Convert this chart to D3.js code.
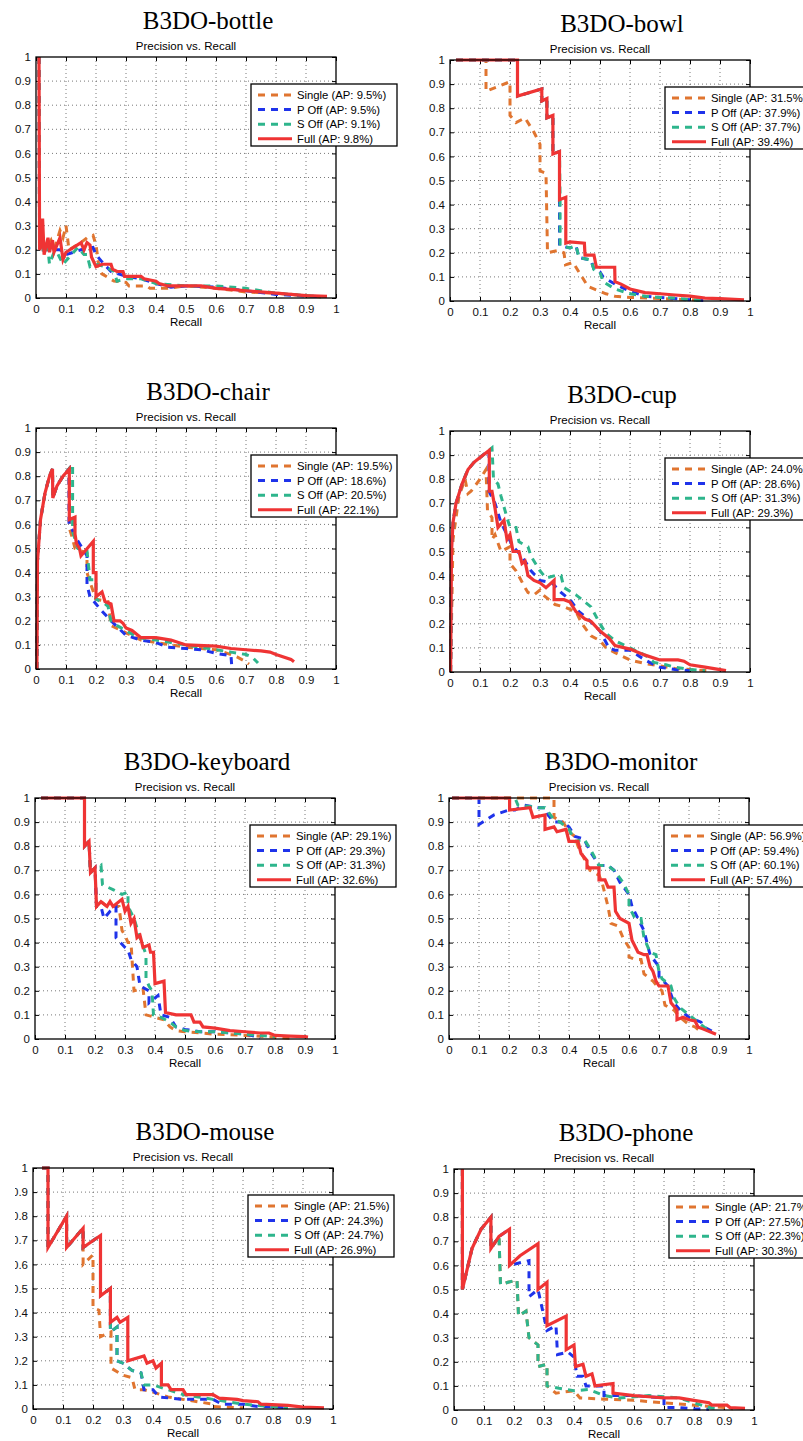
<!DOCTYPE html>
<html>
<head>
<meta charset="utf-8">
<script src="https://cdn.jsdelivr.net/npm/d3@7"></script>
<style>
  body { margin: 0; background: #fff; }
  svg { display: block; }
</style>
</head>
<body>
<div id="chart"></div>
<script>
// precision-recall curves, [recall, precision]
const seriesNames = ["Single", "P Off", "S Off", "Full"];
const seriesColors = ["#E07530", "#1F33EA", "#2EB58C", "#EF3434"];

const panelTitles = ["B3DO-bottle", "B3DO-bowl", "B3DO-chair", "B3DO-cup",
                     "B3DO-keyboard", "B3DO-monitor", "B3DO-mouse", "B3DO-phone"];

const apBottle = [9.5, 9.5, 9.1, 9.8];
const apBowl = [31.5, 37.9, 37.7, 39.4];
const apChair = [19.5, 18.6, 20.5, 22.1];
const apCup = [24.0, 28.6, 31.3, 29.3];
const apKeyboard = [29.1, 29.3, 31.3, 32.6];
const apMonitor = [56.9, 59.4, 60.1, 57.4];
const apMouse = [21.5, 24.3, 24.7, 26.9];
const apPhone = [21.7, 27.5, 22.3, 30.3];

const tickValues = [0, 0.1, 0.2, 0.3, 0.4, 0.5, 0.6, 0.7, 0.8, 0.9, 1];
const tickLabels = ["0", "0.1", "0.2", "0.3", "0.4", "0.5", "0.6", "0.7", "0.8", "0.9", "1"];

// ---- bottle
const bottleSingle = [[0.01,1],[0.012,0.2],[0.03,0.2],[0.05,0.24],[0.06,0.2],[0.08,0.28],[0.09,0.25],[0.1,0.3],[0.11,0.2],[0.15,0.23],[0.17,0.25],[0.19,0.26],[0.2,0.22],[0.21,0.13],[0.22,0.1],[0.26,0.07],[0.3,0.065],[0.31,0.05],[0.37,0.05],[0.38,0.04],[0.44,0.04],[0.5,0.05],[0.6,0.04],[0.7,0.025],[0.8,0.02],[0.9,0.01],[0.95,0.005]];
const bottlePOff = [[0.01,1],[0.012,0.2],[0.03,0.2],[0.05,0.2],[0.08,0.2],[0.1,0.18],[0.15,0.2],[0.19,0.21],[0.2,0.18],[0.22,0.15],[0.25,0.11],[0.3,0.09],[0.35,0.08],[0.4,0.06],[0.45,0.045],[0.5,0.05],[0.6,0.045],[0.7,0.03],[0.8,0.015],[0.9,0.008],[0.95,0.005]];
const bottleSOff = [[0.01,1],[0.012,0.2],[0.04,0.2],[0.045,0.14],[0.06,0.19],[0.07,0.19],[0.09,0.14],[0.14,0.21],[0.16,0.18],[0.17,0.18],[0.18,0.13],[0.2,0.14],[0.23,0.13],[0.26,0.11],[0.27,0.07],[0.3,0.08],[0.35,0.08],[0.4,0.06],[0.5,0.05],[0.6,0.05],[0.7,0.04],[0.8,0.02],[0.9,0.01],[0.95,0.005]];
const bottleFull = [[0.01,1],[0.012,0.2],[0.02,0.22],[0.022,0.33],[0.027,0.18],[0.04,0.25],[0.045,0.19],[0.055,0.24],[0.06,0.19],[0.08,0.25],[0.09,0.16],[0.1,0.19],[0.15,0.23],[0.16,0.2],[0.17,0.23],[0.18,0.22],[0.185,0.17],[0.2,0.13],[0.22,0.14],[0.25,0.14],[0.255,0.12],[0.27,0.11],[0.29,0.11],[0.295,0.09],[0.35,0.09],[0.36,0.08],[0.4,0.07],[0.41,0.06],[0.44,0.05],[0.55,0.05],[0.6,0.04],[0.66,0.035],[0.7,0.03],[0.8,0.02],[0.9,0.01],[0.97,0.007]];

// ---- bowl
const bowlSingle = [[0.02,1],[0.12,1],[0.12,0.87],[0.2,0.91],[0.2,0.77],[0.22,0.74],[0.25,0.76],[0.28,0.7],[0.3,0.65],[0.3,0.54],[0.32,0.53],[0.325,0.2],[0.36,0.21],[0.38,0.2],[0.385,0.15],[0.41,0.16],[0.44,0.1],[0.46,0.06],[0.5,0.04],[0.52,0.03],[0.55,0.02],[0.6,0.015],[0.7,0.01],[0.8,0.005],[0.85,0.003]];
const bowlPOff = [[0.02,1],[0.225,1],[0.225,0.85],[0.306,0.88],[0.306,0.83],[0.323,0.84],[0.323,0.76],[0.343,0.77],[0.343,0.61],[0.365,0.62],[0.365,0.23],[0.4,0.22],[0.42,0.23],[0.43,0.18],[0.47,0.17],[0.48,0.13],[0.5,0.12],[0.51,0.1],[0.55,0.07],[0.6,0.04],[0.65,0.02],[0.7,0.015],[0.8,0.005],[0.85,0.002]];
const bowlSOff = [[0.02,1],[0.225,1],[0.225,0.85],[0.306,0.88],[0.306,0.83],[0.323,0.84],[0.323,0.76],[0.343,0.77],[0.343,0.61],[0.365,0.62],[0.367,0.41],[0.367,0.23],[0.4,0.22],[0.42,0.23],[0.43,0.18],[0.47,0.17],[0.48,0.13],[0.5,0.12],[0.51,0.08],[0.55,0.05],[0.6,0.03],[0.65,0.02],[0.7,0.015],[0.75,0.012],[0.8,0.005],[0.85,0.002]];
const bowlFull = [[0.02,1],[0.225,1],[0.225,0.85],[0.306,0.88],[0.306,0.83],[0.323,0.84],[0.323,0.76],[0.343,0.77],[0.343,0.61],[0.365,0.62],[0.365,0.42],[0.386,0.43],[0.386,0.24],[0.4,0.245],[0.448,0.24],[0.45,0.19],[0.48,0.19],[0.488,0.14],[0.549,0.14],[0.55,0.08],[0.57,0.07],[0.6,0.05],[0.65,0.035],[0.7,0.03],[0.75,0.025],[0.8,0.02],[0.85,0.012],[0.9,0.01],[0.98,0.005]];

// ---- chair
const chairSingle = [[0.003,0],[0.005,0.45],[0.015,0.62],[0.03,0.73],[0.045,0.8],[0.055,0.83],[0.056,0.71],[0.07,0.76],[0.09,0.8],[0.11,0.83],[0.112,0.58],[0.12,0.55],[0.13,0.5],[0.17,0.48],[0.17,0.4],[0.18,0.36],[0.2,0.29],[0.24,0.28],[0.25,0.18],[0.3,0.15],[0.35,0.12],[0.45,0.1],[0.5,0.09],[0.6,0.08],[0.65,0.06],[0.67,0.05],[0.7,0.03],[0.71,0.02]];
const chairPOff = [[0.003,0],[0.005,0.45],[0.015,0.62],[0.03,0.73],[0.045,0.8],[0.055,0.83],[0.056,0.71],[0.07,0.76],[0.09,0.8],[0.11,0.83],[0.11,0.6],[0.12,0.58],[0.13,0.55],[0.17,0.47],[0.17,0.35],[0.18,0.3],[0.2,0.27],[0.22,0.24],[0.25,0.2],[0.3,0.14],[0.35,0.12],[0.4,0.11],[0.44,0.09],[0.5,0.085],[0.55,0.08],[0.6,0.065],[0.65,0.055],[0.652,0.02]];
const chairSOff = [[0.003,0],[0.005,0.45],[0.015,0.62],[0.03,0.73],[0.045,0.8],[0.055,0.83],[0.056,0.71],[0.07,0.76],[0.09,0.8],[0.11,0.83],[0.122,0.85],[0.122,0.57],[0.14,0.5],[0.17,0.49],[0.18,0.37],[0.2,0.37],[0.2,0.29],[0.23,0.27],[0.24,0.26],[0.25,0.2],[0.27,0.18],[0.3,0.16],[0.34,0.13],[0.4,0.12],[0.45,0.11],[0.5,0.1],[0.6,0.08],[0.65,0.07],[0.7,0.06],[0.72,0.05],[0.74,0.025]];
const chairFull = [[0.003,0],[0.005,0.45],[0.015,0.62],[0.03,0.73],[0.045,0.8],[0.055,0.83],[0.056,0.71],[0.07,0.76],[0.09,0.8],[0.111,0.83],[0.111,0.62],[0.13,0.63],[0.13,0.56],[0.135,0.52],[0.145,0.5],[0.15,0.47],[0.191,0.53],[0.191,0.4],[0.2,0.4],[0.2,0.3],[0.22,0.32],[0.23,0.28],[0.25,0.27],[0.26,0.2],[0.28,0.2],[0.29,0.19],[0.3,0.17],[0.32,0.16],[0.35,0.13],[0.4,0.13],[0.45,0.12],[0.5,0.1],[0.6,0.095],[0.65,0.085],[0.7,0.08],[0.75,0.075],[0.78,0.07],[0.8,0.06],[0.85,0.04],[0.86,0.03]];

// ---- cup
const cupSingle = [[0.002,0],[0.01,0.55],[0.03,0.73],[0.05,0.8],[0.06,0.74],[0.07,0.75],[0.1,0.8],[0.12,0.84],[0.125,0.67],[0.14,0.64],[0.14,0.55],[0.15,0.57],[0.17,0.5],[0.2,0.52],[0.2,0.45],[0.22,0.42],[0.25,0.35],[0.26,0.33],[0.28,0.32],[0.3,0.34],[0.31,0.32],[0.33,0.3],[0.35,0.28],[0.38,0.27],[0.42,0.25],[0.44,0.2],[0.47,0.15],[0.5,0.13],[0.52,0.1],[0.55,0.08],[0.6,0.05],[0.65,0.035],[0.7,0.025],[0.75,0.015],[0.8,0.01],[0.87,0.005]];
const cupPOff = [[0.002,0],[0.005,0.5],[0.01,0.62],[0.02,0.7],[0.04,0.78],[0.06,0.84],[0.08,0.87],[0.1,0.89],[0.13,0.92],[0.13,0.75],[0.15,0.7],[0.17,0.62],[0.19,0.57],[0.21,0.52],[0.24,0.48],[0.27,0.42],[0.3,0.38],[0.34,0.37],[0.37,0.33],[0.4,0.3],[0.43,0.25],[0.46,0.22],[0.5,0.17],[0.53,0.1],[0.55,0.09],[0.6,0.09],[0.65,0.05],[0.68,0.03],[0.7,0.02],[0.75,0.01],[0.8,0.005]];
const cupSOff = [[0.002,0],[0.005,0.5],[0.01,0.62],[0.02,0.7],[0.04,0.78],[0.06,0.84],[0.08,0.87],[0.1,0.89],[0.13,0.92],[0.14,0.93],[0.145,0.8],[0.16,0.78],[0.17,0.73],[0.19,0.64],[0.2,0.6],[0.22,0.6],[0.23,0.54],[0.26,0.52],[0.27,0.48],[0.3,0.42],[0.32,0.39],[0.35,0.4],[0.37,0.4],[0.38,0.35],[0.42,0.32],[0.45,0.29],[0.47,0.27],[0.5,0.2],[0.52,0.16],[0.55,0.13],[0.6,0.1],[0.65,0.07],[0.68,0.04],[0.72,0.03],[0.75,0.02],[0.8,0.01],[0.85,0.005]];
const cupFull = [[0.002,0],[0.005,0.5],[0.01,0.62],[0.02,0.7],[0.04,0.78],[0.06,0.84],[0.08,0.87],[0.1,0.89],[0.131,0.92],[0.131,0.75],[0.14,0.75],[0.15,0.68],[0.16,0.6],[0.18,0.63],[0.19,0.55],[0.2,0.57],[0.21,0.5],[0.23,0.5],[0.24,0.45],[0.25,0.46],[0.26,0.4],[0.28,0.38],[0.3,0.37],[0.32,0.35],[0.347,0.38],[0.347,0.3],[0.38,0.3],[0.4,0.29],[0.42,0.25],[0.45,0.22],[0.47,0.21],[0.5,0.17],[0.53,0.14],[0.55,0.11],[0.6,0.095],[0.65,0.07],[0.7,0.05],[0.76,0.05],[0.78,0.045],[0.8,0.03],[0.85,0.02],[0.9,0.01],[0.92,0.006]];

// ---- keyboard
const keyboardSingle = [[0.02,1],[0.165,1],[0.165,0.8],[0.18,0.82],[0.185,0.69],[0.2,0.71],[0.205,0.55],[0.22,0.57],[0.24,0.55],[0.26,0.55],[0.28,0.55],[0.29,0.45],[0.3,0.43],[0.31,0.4],[0.32,0.4],[0.33,0.2],[0.36,0.21],[0.37,0.1],[0.4,0.09],[0.43,0.08],[0.45,0.05],[0.47,0.035],[0.5,0.03],[0.6,0.02],[0.7,0.015],[0.8,0.008],[0.85,0.003]];
const keyboardPOff = [[0.02,1],[0.165,1],[0.165,0.8],[0.18,0.82],[0.185,0.69],[0.2,0.71],[0.205,0.55],[0.22,0.55],[0.23,0.5],[0.25,0.53],[0.27,0.55],[0.27,0.42],[0.3,0.38],[0.31,0.37],[0.32,0.33],[0.34,0.3],[0.35,0.22],[0.38,0.2],[0.38,0.15],[0.4,0.17],[0.41,0.18],[0.42,0.1],[0.45,0.09],[0.47,0.05],[0.5,0.04],[0.55,0.03],[0.6,0.03],[0.65,0.025],[0.7,0.02],[0.74,0.01],[0.75,0.003]];
const keyboardSOff = [[0.02,1],[0.165,1],[0.165,0.8],[0.18,0.82],[0.185,0.69],[0.2,0.71],[0.21,0.71],[0.22,0.72],[0.225,0.64],[0.26,0.62],[0.29,0.6],[0.31,0.61],[0.31,0.55],[0.33,0.5],[0.35,0.42],[0.37,0.35],[0.37,0.25],[0.38,0.22],[0.39,0.2],[0.395,0.1],[0.42,0.09],[0.45,0.07],[0.47,0.05],[0.5,0.035],[0.55,0.03],[0.6,0.03],[0.7,0.02],[0.75,0.015],[0.8,0.01]];
const keyboardFull = [[0.02,1],[0.165,1],[0.165,0.8],[0.18,0.82],[0.185,0.69],[0.2,0.71],[0.205,0.55],[0.22,0.57],[0.24,0.55],[0.25,0.57],[0.26,0.55],[0.29,0.58],[0.3,0.53],[0.31,0.55],[0.32,0.48],[0.33,0.5],[0.34,0.42],[0.35,0.43],[0.36,0.38],[0.38,0.39],[0.385,0.36],[0.395,0.36],[0.4,0.23],[0.43,0.24],[0.435,0.11],[0.47,0.1],[0.52,0.1],[0.53,0.07],[0.55,0.07],[0.56,0.05],[0.6,0.045],[0.65,0.035],[0.7,0.03],[0.75,0.025],[0.78,0.025],[0.8,0.015],[0.85,0.012],[0.9,0.01],[0.91,0.008]];

// ---- monitor
const monitorSingle = [[0.01,1],[0.35,1],[0.35,0.92],[0.38,0.9],[0.4,0.86],[0.42,0.84],[0.43,0.8],[0.45,0.75],[0.47,0.7],[0.5,0.68],[0.51,0.65],[0.53,0.55],[0.54,0.48],[0.56,0.47],[0.57,0.45],[0.58,0.42],[0.6,0.38],[0.6,0.34],[0.62,0.33],[0.64,0.33],[0.65,0.27],[0.67,0.25],[0.68,0.24],[0.7,0.21],[0.71,0.2],[0.72,0.14],[0.75,0.12],[0.77,0.09],[0.8,0.06],[0.82,0.05],[0.84,0.03]];
const monitorPOff = [[0.01,1],[0.1,1],[0.1,0.89],[0.15,0.93],[0.2,0.95],[0.22,0.95],[0.25,0.97],[0.3,0.96],[0.32,0.96],[0.33,0.93],[0.35,0.9],[0.38,0.9],[0.4,0.88],[0.42,0.84],[0.45,0.83],[0.47,0.78],[0.5,0.72],[0.53,0.72],[0.55,0.7],[0.57,0.65],[0.6,0.6],[0.61,0.55],[0.63,0.5],[0.65,0.45],[0.67,0.35],[0.7,0.3],[0.7,0.26],[0.73,0.22],[0.75,0.15],[0.77,0.12],[0.8,0.09],[0.82,0.08],[0.84,0.07],[0.85,0.05],[0.88,0.03]];
const monitorSOff = [[0.01,1],[0.22,1],[0.23,0.97],[0.3,0.96],[0.32,0.96],[0.35,0.91],[0.37,0.9],[0.4,0.87],[0.42,0.82],[0.45,0.83],[0.47,0.79],[0.5,0.72],[0.53,0.72],[0.55,0.7],[0.58,0.65],[0.6,0.6],[0.6,0.55],[0.62,0.5],[0.64,0.5],[0.65,0.42],[0.67,0.36],[0.69,0.35],[0.7,0.28],[0.71,0.25],[0.74,0.22],[0.75,0.17],[0.77,0.13],[0.8,0.1],[0.82,0.08],[0.85,0.05],[0.87,0.03]];
const monitorFull = [[0.01,1],[0.202,1],[0.202,0.95],[0.27,0.96],[0.28,0.92],[0.32,0.93],[0.32,0.87],[0.35,0.88],[0.36,0.86],[0.39,0.87],[0.4,0.82],[0.43,0.82],[0.44,0.77],[0.46,0.74],[0.46,0.71],[0.5,0.71],[0.5,0.66],[0.52,0.66],[0.53,0.63],[0.55,0.63],[0.555,0.53],[0.57,0.5],[0.6,0.48],[0.61,0.41],[0.63,0.36],[0.65,0.35],[0.66,0.35],[0.67,0.3],[0.68,0.28],[0.69,0.24],[0.7,0.22],[0.73,0.22],[0.74,0.15],[0.76,0.12],[0.76,0.08],[0.78,0.09],[0.8,0.08],[0.82,0.075],[0.83,0.05],[0.85,0.04],[0.88,0.025],[0.89,0.02]];

// ---- mouse
const mouseSingle = [[0.03,1],[0.05,1],[0.05,0.67],[0.112,0.8],[0.112,0.67],[0.167,0.75],[0.167,0.6],[0.2,0.64],[0.2,0.42],[0.22,0.41],[0.225,0.3],[0.26,0.32],[0.26,0.17],[0.3,0.14],[0.33,0.13],[0.34,0.08],[0.37,0.08],[0.4,0.07],[0.45,0.05],[0.5,0.04],[0.55,0.03],[0.6,0.02],[0.6,0.01],[0.7,0.005]];
const mousePOff = [[0.03,1],[0.05,1],[0.05,0.67],[0.112,0.8],[0.112,0.67],[0.167,0.75],[0.167,0.67],[0.225,0.72],[0.225,0.47],[0.258,0.5],[0.258,0.32],[0.28,0.34],[0.28,0.2],[0.3,0.19],[0.33,0.16],[0.36,0.15],[0.37,0.08],[0.4,0.08],[0.42,0.05],[0.5,0.04],[0.6,0.04],[0.63,0.02],[0.7,0.02],[0.75,0.01],[0.8,0.01],[0.85,0.005]];
const mouseSOff = [[0.03,1],[0.05,1],[0.05,0.67],[0.112,0.8],[0.112,0.67],[0.167,0.75],[0.167,0.67],[0.225,0.72],[0.225,0.47],[0.258,0.5],[0.258,0.32],[0.28,0.34],[0.28,0.2],[0.3,0.19],[0.33,0.16],[0.36,0.15],[0.37,0.1],[0.4,0.1],[0.45,0.08],[0.5,0.06],[0.55,0.05],[0.6,0.04],[0.65,0.03],[0.7,0.02],[0.75,0.015],[0.8,0.01],[0.85,0.005]];
const mouseFull = [[0.03,1],[0.05,1],[0.05,0.67],[0.112,0.8],[0.112,0.67],[0.167,0.75],[0.167,0.67],[0.225,0.72],[0.225,0.47],[0.258,0.5],[0.258,0.36],[0.28,0.38],[0.29,0.36],[0.316,0.38],[0.316,0.2],[0.37,0.22],[0.38,0.19],[0.4,0.2],[0.41,0.17],[0.428,0.19],[0.428,0.1],[0.45,0.1],[0.46,0.08],[0.5,0.08],[0.51,0.06],[0.6,0.06],[0.62,0.045],[0.68,0.04],[0.7,0.035],[0.75,0.03],[0.76,0.02],[0.85,0.015],[0.9,0.008],[0.97,0.005]];

// ---- phone
const phoneSingle = [[0.028,1],[0.028,0.5],[0.06,0.67],[0.09,0.75],[0.123,0.8],[0.123,0.67],[0.15,0.72],[0.155,0.52],[0.18,0.53],[0.21,0.54],[0.215,0.39],[0.24,0.41],[0.25,0.3],[0.28,0.27],[0.28,0.18],[0.31,0.19],[0.31,0.1],[0.34,0.07],[0.4,0.08],[0.42,0.05],[0.5,0.045],[0.6,0.04],[0.7,0.03],[0.8,0.02],[0.9,0.01],[0.93,0.005]];
const phonePOff = [[0.028,1],[0.028,0.5],[0.06,0.67],[0.09,0.75],[0.123,0.8],[0.123,0.67],[0.15,0.72],[0.185,0.75],[0.185,0.6],[0.25,0.62],[0.25,0.47],[0.28,0.5],[0.31,0.33],[0.34,0.35],[0.345,0.23],[0.38,0.24],[0.4,0.22],[0.41,0.14],[0.43,0.14],[0.44,0.1],[0.5,0.1],[0.5,0.06],[0.6,0.06],[0.7,0.05],[0.7,0.01],[0.75,0.01],[0.8,0.005],[0.85,0.003]];
const phoneSOff = [[0.028,1],[0.028,0.5],[0.06,0.67],[0.09,0.75],[0.123,0.8],[0.123,0.67],[0.15,0.72],[0.155,0.52],[0.18,0.53],[0.21,0.54],[0.215,0.39],[0.24,0.41],[0.25,0.3],[0.28,0.27],[0.28,0.18],[0.31,0.19],[0.31,0.1],[0.35,0.09],[0.4,0.08],[0.45,0.085],[0.5,0.06],[0.55,0.05],[0.6,0.055],[0.65,0.06],[0.7,0.055],[0.75,0.05],[0.8,0.03],[0.85,0.01],[0.88,0.005]];
const phoneFull = [[0.028,1],[0.028,0.5],[0.06,0.67],[0.09,0.75],[0.123,0.8],[0.123,0.67],[0.15,0.72],[0.185,0.75],[0.185,0.6],[0.22,0.64],[0.28,0.69],[0.28,0.5],[0.31,0.53],[0.31,0.35],[0.374,0.39],[0.374,0.25],[0.4,0.27],[0.405,0.18],[0.43,0.19],[0.44,0.14],[0.46,0.15],[0.47,0.1],[0.53,0.11],[0.53,0.07],[0.6,0.06],[0.65,0.055],[0.7,0.05],[0.75,0.05],[0.8,0.04],[0.85,0.03],[0.86,0.02],[0.91,0.02],[0.92,0.01],[0.97,0.007]];

// panel placement; cropLeft = the source image was cut off there (mouse panel)
const panels = [
  { series: [bottleSingle, bottlePOff, bottleSOff, bottleFull], ap: apBottle, left: 36, top: 57 },
  { series: [bowlSingle, bowlPOff, bowlSOff, bowlFull], ap: apBowl, left: 450, top: 60 },
  { series: [chairSingle, chairPOff, chairSOff, chairFull], ap: apChair, left: 36, top: 428 },
  { series: [cupSingle, cupPOff, cupSOff, cupFull], ap: apCup, left: 450, top: 431 },
  { series: [keyboardSingle, keyboardPOff, keyboardSOff, keyboardFull], ap: apKeyboard, left: 35, top: 798 },
  { series: [monitorSingle, monitorPOff, monitorSOff, monitorFull], ap: apMonitor, left: 449, top: 798 },
  { series: [mouseSingle, mousePOff, mouseSOff, mouseFull], ap: apMouse, left: 33, top: 1168, cropLeft: 15 },
  { series: [phoneSingle, phonePOff, phoneSOff, phoneFull], ap: apPhone, left: 454, top: 1169 }
];

const W = 803, H = 1441;
const plotW = 300, plotH = 241;
const sans = "'Liberation Sans', Arial, Helvetica, sans-serif";
const serif = "'Liberation Serif', 'Times New Roman', serif";

const svg = d3.select("#chart").append("svg")
  .attr("width", W).attr("height", H);
const defs = svg.append("defs");

panels.forEach((p, i) => {
  const g = svg.append("g").attr("transform", `translate(${p.left},${p.top})`);
  const x = d3.scaleLinear().domain([0, 1]).range([0, plotW]);
  const y = d3.scaleLinear().domain([0, 1]).range([plotH, 0]);

  // figure title + axes title
  g.append("text")
    .attr("x", 172).attr("y", -28)
    .attr("text-anchor", "middle")
    .style("font-family", serif).style("font-size", "25px")
    .text(panelTitles[i]);
  g.append("text")
    .attr("x", plotW / 2).attr("y", -7)
    .attr("text-anchor", "middle")
    .style("font-family", sans).style("font-size", "11.5px")
    .text("Precision vs. Recall");

  // dotted grid
  const grid = g.append("g").attr("stroke", "#555").attr("stroke-width", 0.8)
    .attr("stroke-dasharray", "1,3");
  tickValues.slice(1, -1).forEach(t => {
    grid.append("line").attr("x1", x(t)).attr("x2", x(t)).attr("y1", 0).attr("y2", plotH);
    grid.append("line").attr("x1", 0).attr("x2", plotW).attr("y1", y(t)).attr("y2", y(t));
  });

  // axes (ticks inside, labels outside)
  const fmt = (d, k) => tickLabels[k];
  const xAxis = g.append("g").attr("transform", `translate(0,${plotH})`)
    .call(d3.axisBottom(x).tickValues(tickValues).tickFormat(fmt).tickSizeInner(-4).tickSizeOuter(0).tickPadding(7));
  const yAxis = g.append("g")
    .call(d3.axisLeft(y).tickValues(tickValues).tickFormat(fmt).tickSizeInner(-4).tickSizeOuter(0).tickPadding(5));
  g.append("g").call(d3.axisTop(x).tickValues(tickValues).tickFormat("").tickSizeInner(-4).tickSizeOuter(0));
  g.append("g").attr("transform", `translate(${plotW},0)`)
    .call(d3.axisRight(y).tickValues(tickValues).tickFormat("").tickSizeInner(-4).tickSizeOuter(0));
  g.selectAll(".domain").remove();
  g.selectAll(".tick line").attr("stroke", "#000");
  [xAxis, yAxis].forEach(a => a.selectAll("text")
    .style("font-family", sans).style("font-size", "11.5px").attr("fill", "#111"));

  if (p.cropLeft) {
    const id = `crop${i}`;
    defs.append("clipPath").attr("id", id).append("rect")
      .attr("x", p.cropLeft - p.left).attr("y", -10)
      .attr("width", 60).attr("height", plotH + 20);
    yAxis.attr("clip-path", `url(#${id})`);
  }

  g.append("text")
    .attr("x", plotW / 2).attr("y", plotH + 28)
    .attr("text-anchor", "middle")
    .style("font-family", sans).style("font-size", "11.5px")
    .text("Recall");

  // curves
  const line = d3.line().x(d => x(d[0])).y(d => y(d[1]));
  p.series.forEach((data, s) => {
    g.append("path")
      .datum(data)
      .attr("d", line)
      .attr("fill", "none")
      .attr("stroke", seriesColors[s])
      .attr("stroke-width", s < 3 ? 3 : 3.2)
      .attr("stroke-linejoin", "miter")
      .attr("stroke-dasharray", s < 3 ? "7,6" : null);
  });

  // axis box
  g.append("rect").attr("width", plotW).attr("height", plotH)
    .attr("fill", "none").attr("stroke", "#000").attr("stroke-width", 1.3);

  // legend
  const lg = g.append("g").attr("transform", `translate(215,27)`);
  lg.append("rect").attr("width", 146).attr("height", 62)
    .attr("fill", "#fff").attr("stroke", "#000").attr("stroke-width", 1.3);
  seriesNames.forEach((name, s) => {
    const ly = 11 + s * 14.6;
    lg.append("line").attr("x1", 7).attr("x2", 41).attr("y1", ly).attr("y2", ly)
      .attr("stroke", seriesColors[s]).attr("stroke-width", 3)
      .attr("stroke-dasharray", s < 3 ? "7,6" : null);
    lg.append("text").attr("x", 46).attr("y", ly + 4)
      .style("font-family", sans).style("font-size", "11.3px")
      .text(`${name} (AP: ${p.ap[s].toFixed(1)}%)`);
  });
});
</script>
</body>
</html>
